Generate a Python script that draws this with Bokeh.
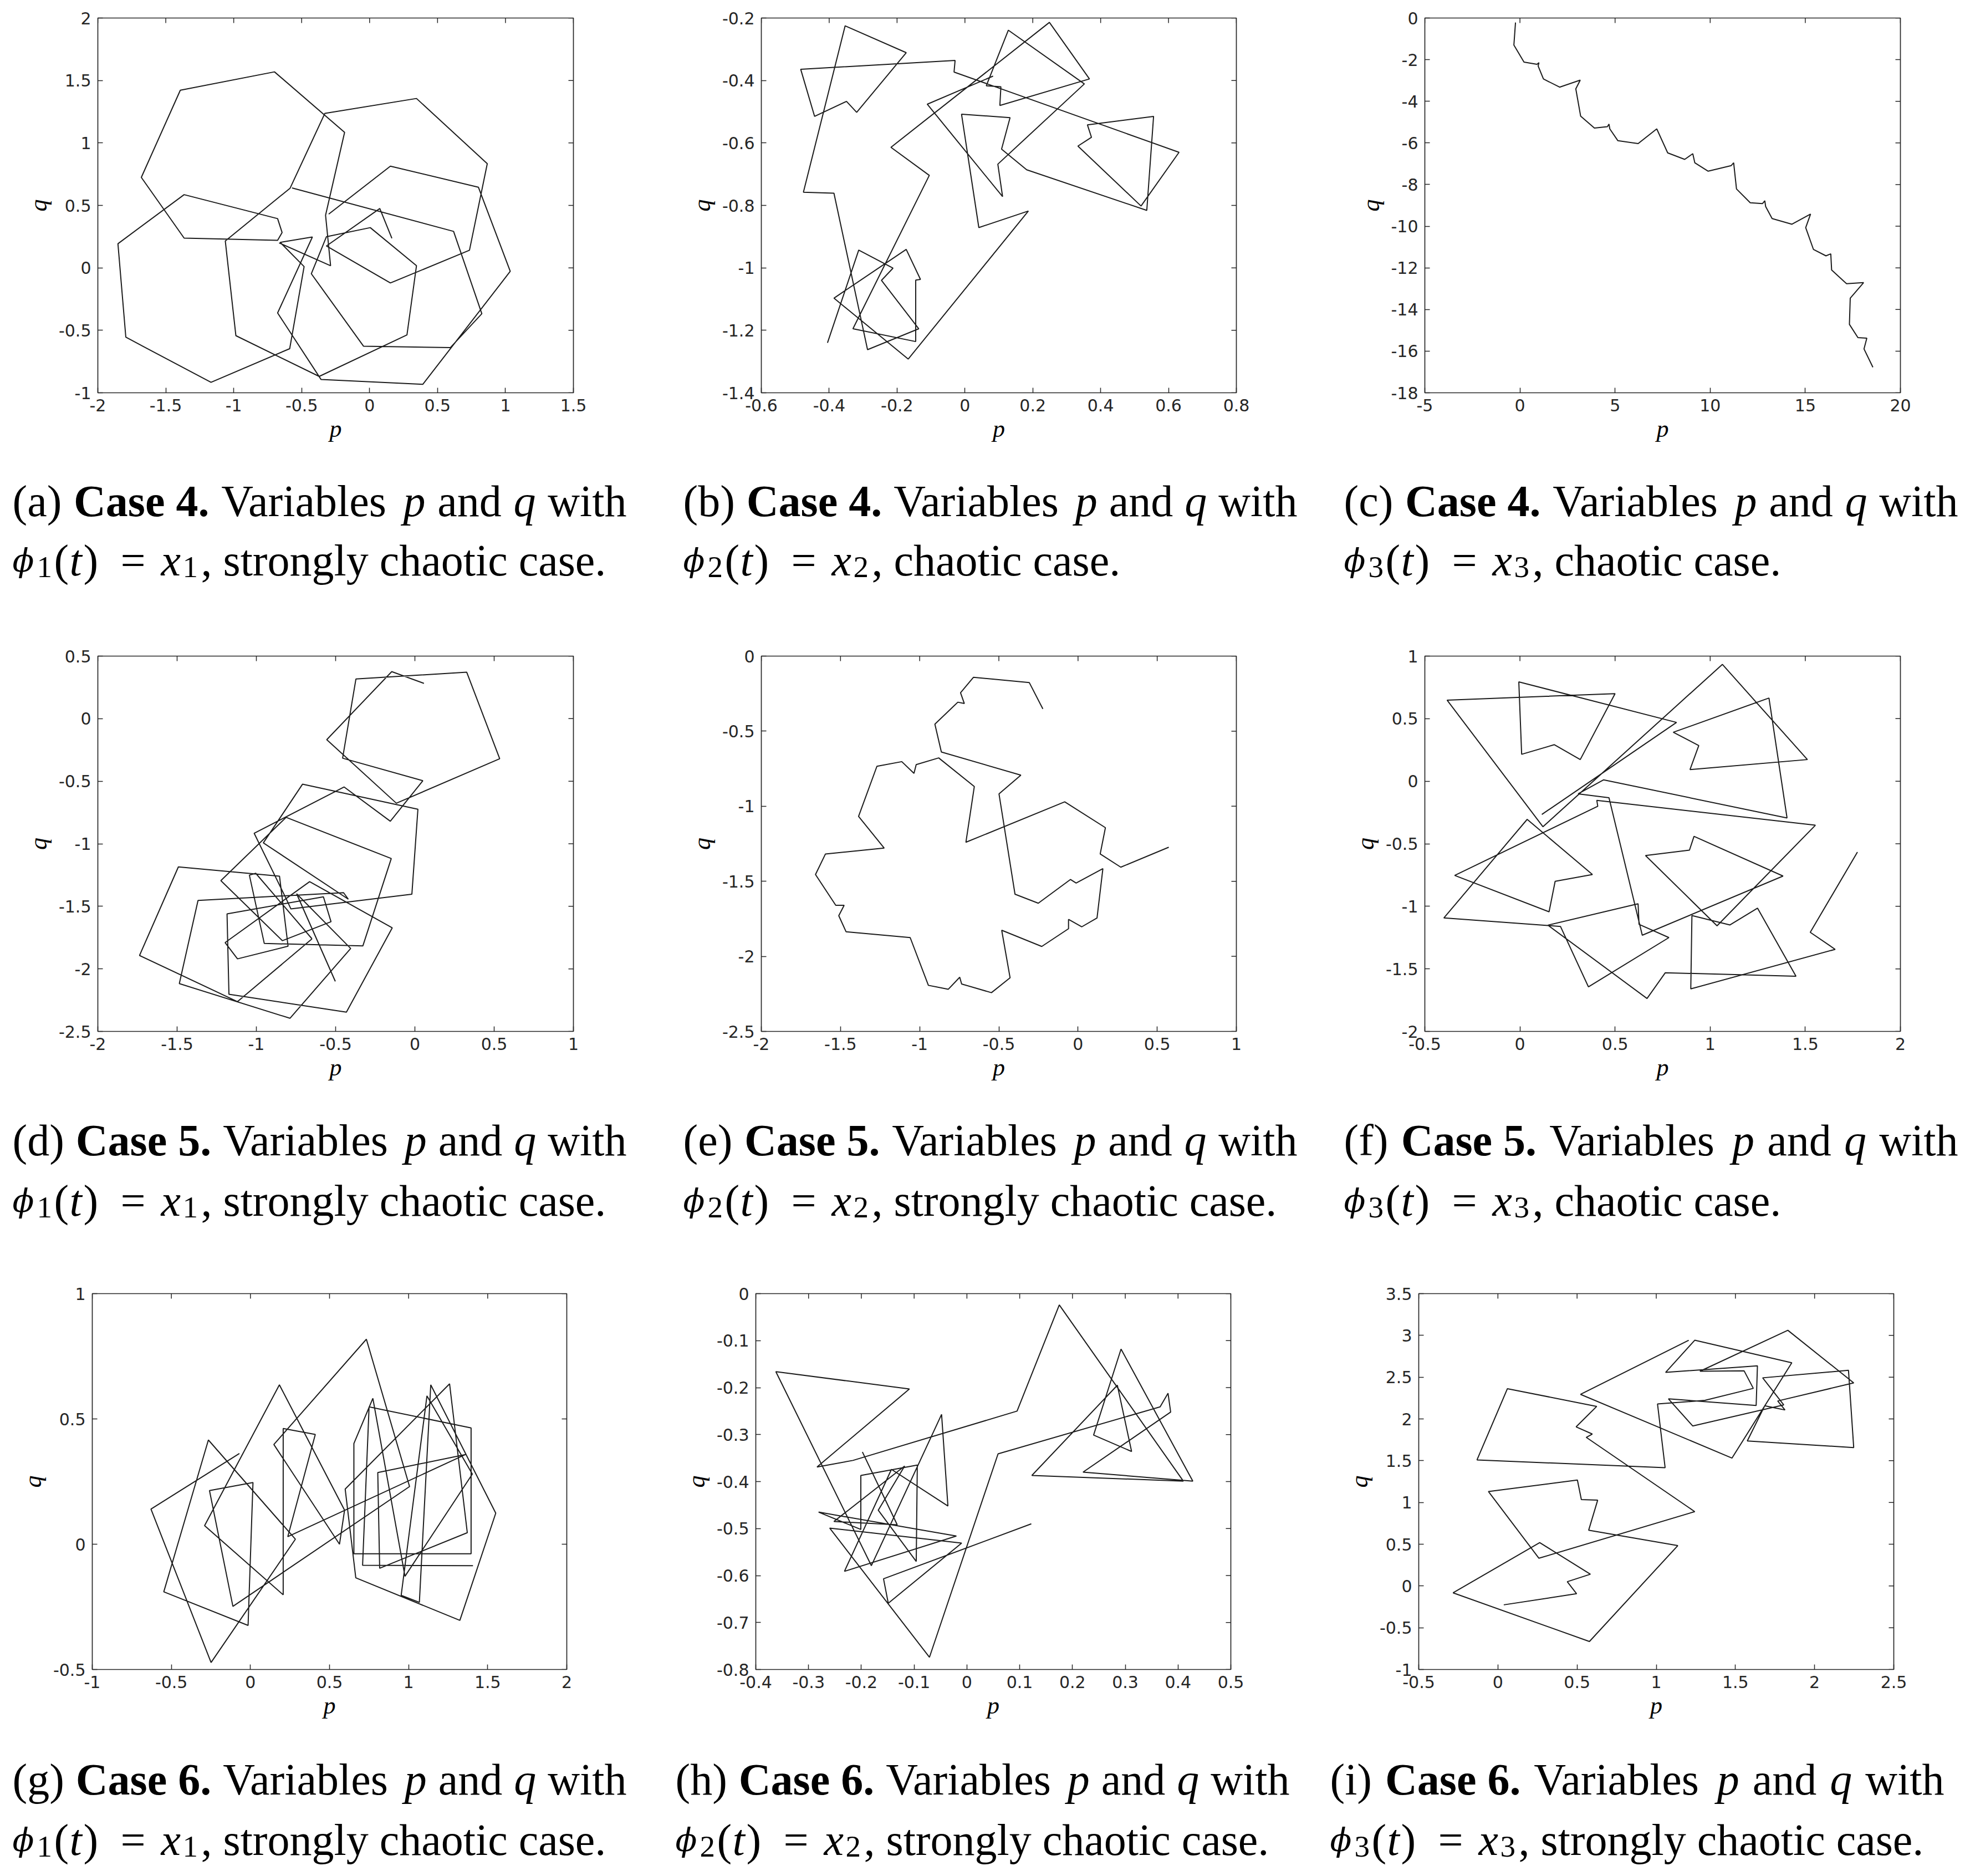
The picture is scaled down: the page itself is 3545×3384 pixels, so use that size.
import numpy as np
from bokeh.plotting import figure
from bokeh.layouts import column, row
from bokeh.models import Range1d, FixedTicker, PrintfTickFormatter
from bokeh.embed import file_html
from bokeh.resources import INLINE
from bokeh.core.properties import value

NAN = float("nan")

# ---------------- data ----------------
# (a) Case 4, phi1 = x1
a_p = [0.164, 0.075, -0.318, 0.153, 0.735, 0.866, 0.345, -0.329, -0.585, -1.062, -0.984, -0.371, 0.275, 0.345,
       0.005, -0.318, -0.429, -0.045, 0.595, 0.826, 0.618, -0.571, NAN,
       -0.301, 0.153, 0.801, 1.035, 0.392, -0.357, -0.677, -0.421, -0.658, -0.482, -0.588, -1.167, -1.794, -1.852,
       -1.365, -0.677, -0.644, -0.677, -1.365, -1.680, -1.393, -0.700, -0.184, -0.324, -0.287, -0.666]
a_q = [0.236, 0.475, 0.175, -0.121, 0.141, 0.834, 1.356, 1.237, 0.638, 0.215, -0.543, -0.869, -0.537, 0.017,
       0.322, 0.249, -0.047, -0.627, -0.638, -0.367, 0.292, 0.640, NAN,
       0.430, 0.814, 0.645, -0.028, -0.932, -0.894, -0.361, 0.247, 0.204, 0.010, -0.647, -0.916, -0.555, 0.193,
       0.586, 0.394, 0.283, 0.220, 0.238, 0.724, 1.422, 1.569, 1.085, 0.421, 0.017, 0.200]
a_xticks = [-2, -1.5, -1, -0.5, 0, 0.5, 1, 1.5]
a_yticks = [-1, -0.5, 0, 0.5, 1, 1.5, 2]

# (b) Case 4, phi2 = x2
b_p = [-0.405, -0.313, -0.212, -0.246, -0.136, -0.287, -0.386, -0.476, -0.353, -0.173, -0.319, -0.349, -0.443,
       -0.484, -0.029, -0.032, 0.631, 0.519, 0.333, 0.373, 0.361, 0.556, 0.536, 0.182, 0.108, 0.133, -0.010,
       0.041, 0.187, -0.167, -0.386, -0.173, -0.131, -0.145, -0.145, -0.330, -0.105, -0.218, 0.249, 0.367,
       0.103, 0.106, 0.063, 0.128, 0.352, 0.097, 0.111, -0.111, 0.083]
b_q = [-1.240, -0.943, -1.001, -1.040, -1.195, -1.262, -0.761, -0.758, -0.225, -0.311, -0.502, -0.467, -0.515,
       -0.364, -0.336, -0.373, -0.630, -0.802, -0.610, -0.582, -0.542, -0.515, -0.816, -0.686, -0.620, -0.519,
       -0.508, -0.871, -0.818, -1.292, -1.097, -0.941, -1.037, -1.039, -1.236, -1.195, -0.704, -0.614, -0.214,
       -0.395, -0.480, -0.420, -0.417, -0.239, -0.411, -0.668, -0.772, -0.476, -0.386]
b_xticks = [-0.6, -0.4, -0.2, 0, 0.2, 0.4, 0.6, 0.8]
b_yticks = [-1.4, -1.2, -1.0, -0.8, -0.6, -0.4, -0.2]

# (c) Case 4, phi3 = x3
c_p = [-0.234, -0.319, 0.213, 0.894, 1.000, 0.957, 1.234, 2.085, 3.170, 2.936, 3.191, 3.915, 4.596, 4.681, 4.723,
       5.149, 6.213, 7.191, 7.766, 8.660, 9.085, 9.191, 9.894, 11.106, 11.234, 11.383, 12.106, 12.745, 12.872,
       12.915, 13.255, 14.298, 15.277, 15.021, 15.426, 16.085, 16.340, 16.383, 17.170, 18.064, 17.362, 17.319,
       17.766, 18.234, 18.085, 18.553]
c_q = [-0.217, -1.301, -2.114, -2.222, -2.141, -2.304, -2.927, -3.320, -2.981, -3.401, -4.715, -5.285, -5.217,
       -5.095, -5.325, -5.894, -6.030, -5.325, -6.477, -6.789, -6.518, -6.951, -7.358, -7.087, -6.951, -8.211,
       -8.875, -8.916, -8.780, -9.051, -9.634, -9.905, -9.417, -10.068, -11.111, -11.423, -11.328, -12.100,
       -12.764, -12.710, -13.455, -14.715, -15.352, -15.379, -15.894, -16.775]
c_xticks = [-5, 0, 5, 10, 15, 20]
c_yticks = [-18, -16, -14, -12, -10, -8, -6, -4, -2, 0]

# (d) Case 5, phi1 = x1
d_p = [-0.502, -0.746, -0.405, -0.788, -1.486, -1.368, -0.450, -0.420, -0.956, -0.709, 0.019, -0.019, -0.782,
       -0.812, -1.014, -0.447, -0.155, 0.050, -0.456, -0.372, 0.327, 0.535, -0.117, -0.556, -0.146, 0.057, NAN,
       -0.649, -1.004, -1.044, -0.950, -0.328, -0.149, -0.812, -1.224, -0.836, -0.529, -0.577, -1.185, -1.173,
       -0.432, -0.143, -0.664, -1.197, -1.119, -0.800, -0.854, -1.492, -1.737, -1.119, -0.649]
d_q = [-2.100, -1.400, -1.837, -2.395, -2.118, -1.453, -1.391, -1.443, -0.993, -0.524, -0.724, -1.403, -1.521,
       -1.439, -0.916, -0.546, -0.820, -0.496, -0.316, 0.317, 0.371, -0.320, -0.676, -0.168, 0.376, 0.282, NAN,
       -1.760, -1.236, -1.251, -1.797, -1.816, -1.118, -0.789, -1.295, -1.775, -1.623, -1.424, -1.561, -2.203,
       -2.346, -1.672, -1.303, -1.790, -1.920, -1.819, -1.259, -1.185, -1.893, -2.262, -1.760]
d_xticks = [-2, -1.5, -1, -0.5, 0, 0.5, 1]
d_yticks = [-2.5, -2, -1.5, -1, -0.5, 0, 0.5]

# (e) Case 5, phi2 = x2
e_p = [-0.222, -0.308, -0.660, -0.742, -0.718, -0.759, -0.904, -0.863, -0.361, -0.499, -0.398, -0.251, -0.048,
       -0.012, 0.157, 0.120, 0.024, -0.060, -0.060, -0.229, -0.482, -0.429, -0.547, -0.735, -0.747, -0.819,
       -0.945, -1.060, -1.465, -1.511, -1.477, -1.530, -1.658, -1.595, -1.224, -1.386, -1.270, -1.113, -1.036,
       -1.022, -0.880, -0.655, -0.708, -0.084, 0.173, 0.140, 0.270, 0.573]
e_q = [-0.352, -0.176, -0.141, -0.244, -0.316, -0.307, -0.453, -0.639, -0.793, -0.918, -1.586, -1.646, -1.488,
       -1.512, -1.416, -1.744, -1.803, -1.754, -1.816, -1.934, -1.826, -2.143, -2.242, -2.184, -2.139, -2.219,
       -2.193, -1.875, -1.836, -1.729, -1.660, -1.660, -1.455, -1.318, -1.279, -1.068, -0.734, -0.703, -0.781,
       -0.723, -0.678, -0.869, -1.240, -0.971, -1.143, -1.318, -1.406, -1.273]
e_xticks = [-2, -1.5, -1, -0.5, 0, 0.5, 1]
e_yticks = [-2.5, -2, -1.5, -1, -0.5, 0]

# (f) Case 5, phi3 = x3
f_p = [0.115, 0.823, -0.006, 0.009, 0.181, 0.317, 0.500, -0.383, 0.121, 1.064, 1.511, 0.894, 0.940, 0.806, 1.309,
       1.404, 0.440, 0.306, 0.468, 0.643, 1.383, 0.915, 0.891, 0.660, 1.036, 1.553, 0.404, 0.409, -0.343, 0.153,
       0.185, 0.381, 0.038, -0.400, 0.213, 0.360, 0.783, 0.626, 0.621, 0.147, 0.668, 0.764, 1.451, 1.249, 1.104,
       0.904, 0.898, 1.657, 1.526, 1.774]
f_q = [-0.266, 0.470, 0.794, 0.215, 0.292, 0.173, 0.700, 0.648, -0.364, 0.934, 0.173, 0.093, 0.285, 0.391, 0.665,
       -0.294, 0.011, -0.101, -0.132, -1.231, -0.758, -0.441, -0.551, -0.594, -1.156, -0.352, -0.153, -0.200,
       -0.753, -1.044, -0.800, -0.746, -0.305, -1.093, -1.161, -1.644, -1.250, -1.144, -0.980, -1.151, -1.737,
       -1.531, -1.559, -1.015, -1.149, -1.074, -1.660, -1.344, -1.208, -0.566]
f_xticks = [-0.5, 0, 0.5, 1, 1.5, 2]
f_yticks = [-2, -1.5, -1, -0.5, 0, 0.5, 1]

# (g) Case 6, phi1 = x1
g_p = [-0.070, -0.629, -0.249, 0.284, -0.266, -0.548, -0.015, 0.016, -0.259, -0.111, 1.006, 0.733, 0.148, 0.563,
       0.595, 0.183, -0.290, 0.207, 0.207, 0.410, 0.236,
       1.360, 0.805, 0.817, 1.371, 1.259, 0.599, 0.666, 1.324, 1.551, 1.140, 1.068, 0.953, 1.116, 1.403, 0.977,
       0.774, 0.654, 0.654, 1.395, 1.395, 0.750, 0.709, 1.407]
g_q = [0.362, 0.140, -0.472, 0.020, 0.416, -0.190, -0.324, 0.246, 0.214, -0.248, 0.230, 0.818, 0.398, 0.000,
       0.136, 0.636, 0.074, -0.202, 0.462, 0.438, 0.030,
       0.358, 0.286, -0.096, 0.046, 0.640, 0.220, -0.134, -0.304, 0.124, 0.636, -0.232, -0.204, 0.592, 0.280,
       -0.128, 0.582, 0.402, -0.038, -0.038, 0.464, 0.548, -0.084, -0.086]
g_xticks = [-1, -0.5, 0, 0.5, 1, 1.5, 2]
g_yticks = [-0.5, 0, 0.5, 1]

# (h) Case 6, phi2 = x2
h_p = [-0.198, -0.132, -0.252, -0.118, -0.168, -0.096, -0.094, -0.201, -0.201, -0.281, -0.020, -0.232, -0.143,
       -0.036, -0.048, -0.181, -0.362, -0.109, -0.284, -0.216, 0.095, 0.175, 0.410, 0.123, 0.285, 0.312, 0.240,
       0.292, 0.428, 0.220, 0.386, 0.381, 0.366, 0.059, -0.071, -0.260, -0.010, -0.149, -0.158, 0.122]
h_q = [-0.337, -0.492, -0.485, -0.367, -0.461, -0.570, -0.365, -0.387, -0.502, -0.465, -0.516, -0.591, -0.374,
       -0.452, -0.257, -0.579, -0.166, -0.203, -0.369, -0.355, -0.250, -0.024, -0.399, -0.387, -0.195, -0.336,
       -0.301, -0.118, -0.399, -0.380, -0.252, -0.212, -0.241, -0.341, -0.774, -0.499, -0.531, -0.659, -0.607,
       -0.490]
h_xticks = [-0.4, -0.3, -0.2, -0.1, 0, 0.1, 0.2, 0.3, 0.4, 0.5]
h_yticks = [-0.8, -0.7, -0.6, -0.5, -0.4, -0.3, -0.2, -0.1, 0]

# (i) Case 6, phi3 = x3
i_p = [0.037, 0.497, 0.438, 0.584, 0.264, -0.283, 0.578, 1.136, 0.573, 0.630, 0.527, 0.502, -0.060, 0.259, 1.243,
       0.558, 0.596, 0.494, 0.624, 0.060, -0.132, 1.056,
       1.008, 1.307, 1.613, 1.555, 1.276, 1.831, 2.247, 1.767, 1.813, 1.685, 1.575, 2.247, 2.214, 1.672, 1.805,
       1.230, 1.077, 1.631, 1.639, 1.059, 1.243, 1.856, 1.478, 0.522, 1.205]
i_q = [-0.226, -0.093, 0.051, 0.141, 0.519, -0.082, -0.665, 0.483, 0.667, 1.027, 1.034, 1.268, 1.131, 0.332,
       0.890, 1.779, 1.819, 1.905, 2.150, 2.362, 1.509, 1.416,
       2.179, 2.222, 2.366, 2.575, 2.571, 3.061, 2.431, 2.215, 2.107, 2.157, 1.736, 1.657, 2.582, 2.492, 2.168,
       1.916, 2.240, 2.161, 2.636, 2.557, 2.942, 2.672, 1.531, 2.294, 2.942]
i_xticks = [-0.5, 0, 0.5, 1, 1.5, 2, 2.5]
i_yticks = [-1, -0.5, 0, 0.5, 1, 1.5, 2, 2.5, 3, 3.5]

# captions: (letter, case, index, regime)
captions = {
    "a": ("(a)", "Case 4.", "1", "strongly chaotic case."),
    "b": ("(b)", "Case 4.", "2", "chaotic case."),
    "c": ("(c)", "Case 4.", "3", "chaotic case."),
    "d": ("(d)", "Case 5.", "1", "strongly chaotic case."),
    "e": ("(e)", "Case 5.", "2", "strongly chaotic case."),
    "f": ("(f)", "Case 5.", "3", "chaotic case."),
    "g": ("(g)", "Case 6.", "1", "strongly chaotic case."),
    "h": ("(h)", "Case 6.", "2", "strongly chaotic case."),
    "i": ("(i)", "Case 6.", "3", "strongly chaotic case."),
}

# ---------------- style ----------------
AX_COLOR = "#262626"
LINE_COLOR = "#1c1c1c"
TICK_FONT = "DejaVu Sans"
LABEL_FONT = "Liberation Serif"
CAP_FONT = "Liberation Serif"
PHI_FONT = "DejaVu Serif"
CAP_SIZE = 80
SUB_SIZE = 55
PHI_SIZE = 57
TICK_LEN = 9
LINE1_WIDTH = 1108   # justified first caption line

# Times / Liberation Serif advance widths (1/1000 em) used to space caption words
W_REG = {' ': 250, '(': 333, ')': 333, ',': 250, '.': 250, '=': 564, 'C': 667, 'V': 722, 'a': 444, 'b': 500,
         'c': 444, 'd': 500, 'e': 444, 'f': 333, 'g': 500, 'h': 500, 'i': 278, 'l': 278, 'n': 500, 'o': 500,
         'r': 333, 's': 389, 't': 278, 'w': 722, 'y': 500}
W_BOLD = {'C': 722, 'a': 500, 's': 389, 'e': 444, ' ': 250, '.': 250}
W_ITAL = {'p': 500, 'q': 500, 't': 278, 'x': 444}


def text_width(txt, style, size):
    table = {"normal": W_REG, "bold": W_BOLD, "italic": W_ITAL}[style]
    return sum(table.get(ch, 500) for ch in txt) * size / 1000.0


def make_panel(pv, qv, xt, yt, fw, fh, bl, br, bt, bb):
    f = figure(title=None, frame_width=fw, frame_height=fh,
               x_range=Range1d(xt[0], xt[-1]), y_range=Range1d(yt[0], yt[-1]),
               output_backend="svg", toolbar_location=None,
               min_border_left=bl, min_border_right=br, min_border_top=bt, min_border_bottom=bb,
               x_axis_label="p", y_axis_label="q")
    f.grid.visible = False
    f.outline_line_color = AX_COLOR
    f.outline_line_width = 1.7
    f.line(x=np.asarray(pv, dtype=float), y=np.asarray(qv, dtype=float),
           line_color=LINE_COLOR, line_width=2)
    # mirrored inward ticks on the top and right edges of the box
    dy = TICK_LEN * (yt[-1] - yt[0]) / fh
    dx = TICK_LEN * (xt[-1] - xt[0]) / fw
    f.segment(x0=xt, y0=[yt[-1]] * len(xt), x1=xt, y1=[yt[-1] - dy] * len(xt),
              line_color=AX_COLOR, line_width=1.5)
    f.segment(x0=[xt[-1]] * len(yt), y0=yt, x1=[xt[-1] - dx] * len(yt), y1=yt,
              line_color=AX_COLOR, line_width=1.5)
    for ax, ticks in ((f.xaxis[0], xt), (f.yaxis[0], yt)):
        ax.ticker = FixedTicker(ticks=ticks)
        ax.formatter = PrintfTickFormatter(format="%g")
        ax.major_tick_in = TICK_LEN
        ax.major_tick_out = 0
        ax.minor_tick_line_color = None
        ax.axis_line_color = None
        ax.major_tick_line_color = AX_COLOR
        ax.major_tick_line_width = 1.5
        ax.major_label_text_font = TICK_FONT
        ax.major_label_text_font_size = "30px"
        ax.major_label_text_color = AX_COLOR
        ax.axis_label_text_font = LABEL_FONT
        ax.axis_label_text_font_style = "italic"
        ax.axis_label_text_font_size = "44px"
        ax.axis_label_text_color = "black"
    f.xaxis[0].major_label_standoff = 11
    f.yaxis[0].major_label_standoff = 12
    f.xaxis[0].axis_label_standoff = 4
    f.yaxis[0].axis_label_standoff = 9
    return f


def put(f, x, y, txt, style="normal", size=CAP_SIZE, font=CAP_FONT):
    f.text(x=[x], y=[y], text=[txt], text_font=value(font), text_font_style=value(style),
           text_font_size=value(f"{size}px"), text_baseline="alphabetic", text_align="left",
           text_color="black")


def make_caption(width, height, key, s, y1, y2):
    f = figure(title=None, width=width, height=height, x_range=Range1d(0, width), y_range=Range1d(height, 0),
               x_axis_location=None, y_axis_location=None, min_border=0,
               output_backend="svg", toolbar_location=None)
    f.outline_line_color = None
    f.xgrid.grid_line_color = None
    f.ygrid.grid_line_color = None
    letter, case, idx, regime = captions[key]
    # first line: justified over the column width
    words = [(letter, "normal"), (case, "bold"), ("Variables", "normal"), ("p", "italic"),
             ("and", "normal"), ("q", "italic"), ("with", "normal")]
    widths = [text_width(w, st, CAP_SIZE) for w, st in words]
    gap = (LINE1_WIDTH - sum(widths)) / (len(words) - 1)
    x = s
    for (w, st), wd in zip(words, widths):
        put(f, x, y1, w, st)
        x += wd + gap
    # second line: phi_k(t) = x_k, regime
    put(f, s, y2, "\u03d5", "italic", PHI_SIZE, PHI_FONT)
    put(f, s + 44, y2 + 12, idx, size=SUB_SIZE)
    put(f, s + 75, y2, "(")
    put(f, s + 103, y2, "t", "italic")
    put(f, s + 128, y2, ")")
    put(f, s + 195, y2, "=")
    put(f, s + 268, y2, "x", "italic")
    put(f, s + 307, y2 + 12, idx, size=SUB_SIZE)
    put(f, s + 340, y2, ", " + regime)
    return f


# column geometry (page px, no page margin): figure left edges and widths
COLS = [(0, 1198), (1198, 1190), (2388, 1157)]
FW_R12 = [858, 857, 858]
FL_R12 = [176, 1373, 2570]
FW_R3 = [856, 857, 857]
FL_R3 = [166, 1363, 2559]

panels_r1 = [(a_p, a_q, a_xticks, a_yticks), (b_p, b_q, b_xticks, b_yticks), (c_p, c_q, c_xticks, c_yticks)]
panels_r2 = [(d_p, d_q, d_xticks, d_yticks), (e_p, e_q, e_xticks, e_yticks), (f_p, f_q, f_xticks, f_yticks)]
panels_r3 = [(g_p, g_q, g_xticks, g_yticks), (h_p, h_q, h_xticks, h_yticks), (i_p, i_q, i_xticks, i_yticks)]


def plot_row(panels, lefts, widths, bt, fh, bb):
    figs = []
    for k, (pv, qv, xt, yt) in enumerate(panels):
        x0, w = COLS[k]
        bl = lefts[k] - x0
        br = w - bl - widths[k]
        figs.append(make_panel(pv, qv, xt, yt, widths[k], fh, bl, br, bt, bb))
    return row(*figs)


def caption_row(keys, starts, height, y1, y2):
    figs = []
    for k, key in enumerate(keys):
        x0, w = COLS[k]
        figs.append(make_caption(w, height, key, starts[k] - x0, y1, y2))
    return row(*figs)


layout = column(
    plot_row(panels_r1, FL_R12, FW_R12, 32, 676, 122),
    caption_row("abc", [22, 1232, 2424], 260, 73, 180),
    plot_row(panels_r2, FL_R12, FW_R12, 93, 677, 130),
    caption_row("def", [22, 1232, 2424], 250, 66, 175),
    plot_row(panels_r3, FL_R3, FW_R3, 93, 678, 119),
    caption_row("ghi", [22, 1218, 2399], 250, 79, 188),
)

open("out.html", "w").write(file_html(layout, INLINE, title="Variables p and q"))
